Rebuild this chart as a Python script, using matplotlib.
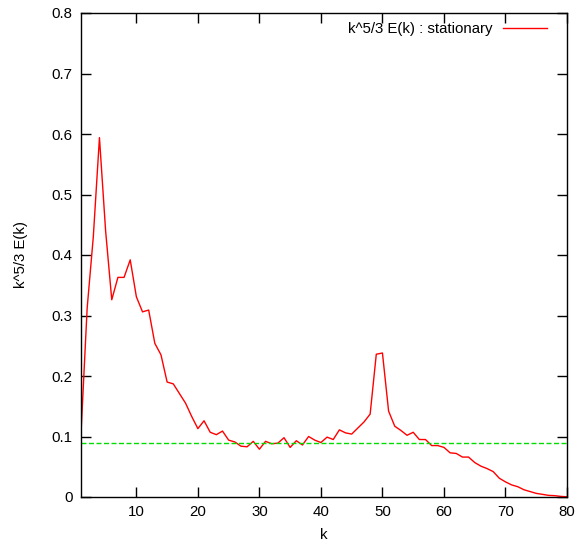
import numpy as np
import matplotlib.pyplot as plt

plt.rcParams['font.family'] = ['Liberation Sans', 'DejaVu Sans']

# -------------------------------
# Spectrum data
# -------------------------------
k = np.arange(1, 81)
spectrum = [
    0.105, 0.312, 0.430, 0.594, 0.440, 0.326, 0.363, 0.363, 0.392, 0.331,
    0.306, 0.309, 0.254, 0.235, 0.190, 0.187, 0.171, 0.155, 0.133, 0.113,
    0.126, 0.107, 0.103, 0.109, 0.094, 0.091, 0.084, 0.083, 0.092, 0.079,
    0.092, 0.088, 0.089, 0.098, 0.082, 0.093, 0.086, 0.100, 0.094, 0.090,
    0.099, 0.095, 0.111, 0.106, 0.104, 0.114, 0.124, 0.137, 0.236, 0.238,
    0.142, 0.117, 0.110, 0.102, 0.107, 0.095, 0.095, 0.085, 0.085, 0.082,
    0.073, 0.072, 0.066, 0.066, 0.057, 0.051, 0.047, 0.042, 0.031, 0.025,
    0.020, 0.017, 0.012, 0.009, 0.006, 0.0044, 0.0027, 0.0022, 0.0010, 0.0003,
]
reference_level = 0.09

x_ticks = [10, 20, 30, 40, 50, 60, 70, 80]
y_ticks = [0, 0.1, 0.2, 0.3, 0.4, 0.5, 0.6, 0.7, 0.8]

# -------------------------------
# Plot
# -------------------------------
fig = plt.figure(figsize=(5.75, 5.44), dpi=100)
ax = fig.add_axes([81 / 575, 47 / 544, 486 / 575, 484 / 544])

ax.plot(k, spectrum, color="red", linewidth=1.0, label="k^5/3 E(k) : stationary")
ax.axhline(reference_level, color="#00dd00", linestyle=(0, (3.6, 1.8)), linewidth=1.0)

ax.set_xlim(1, 80)
ax.set_ylim(0, 0.8)
ax.set_xticks(x_ticks)
ax.set_yticks(y_ticks)
ax.set_yticklabels(["0" if v == 0 else f"{v:.1f}" for v in y_ticks])

ax.tick_params(direction="in", length=7, width=1, top=True, right=True,
               labelsize=10.8, pad=6)
for s in ax.spines.values():
    s.set_linewidth(1.0)

ax.set_xlabel("k", fontsize=10.8, labelpad=6)
ax.set_ylabel("k^5/3 E(k)", fontsize=10.8, labelpad=17)

ax.legend(loc="upper right", frameon=False, markerfirst=False, fontsize=10.8,
          handlelength=2.93, handletextpad=0.67, borderpad=0, borderaxespad=0,
          bbox_to_anchor=(1 - 20 / 486, 1 - 9.5 / 484))

fig.savefig("out.png", dpi=100)
